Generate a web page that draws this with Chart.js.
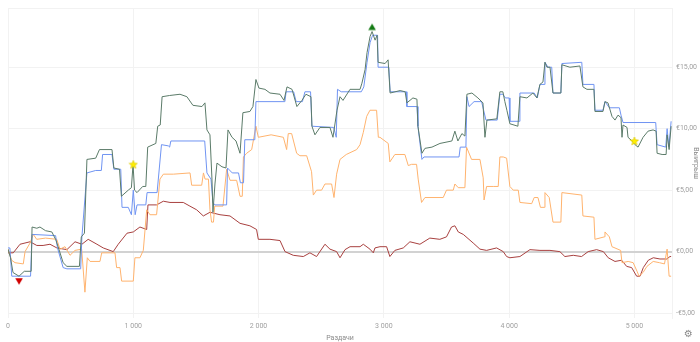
<!DOCTYPE html>
<html><head><meta charset="utf-8">
<script src="https://cdn.jsdelivr.net/npm/chart.js@4/dist/chart.umd.min.js"></script>
<style>
html,body{margin:0;padding:0;background:#fff;}
#wrap{position:relative;width:700px;height:342px;}
#gear{position:absolute;left:684px;top:328px;font:10px "DejaVu Sans";color:#8a8a8a;}
</style></head>
<body><div id="wrap"><canvas id="c" width="700" height="342"></canvas><div id="gear">⚙</div></div>
<script>
// ---- data (hands, winnings in €) ----
const greenHands = [0,20,40,88,130,185,192,230,255,300,350,380,400,440,470,570,585,610,630,700,730,830,845,890,905,960,985,998,1010,1030,1075,1100,1115,1180,1195,1215,1230,1290,1373,1428,1476,1548,1572,1588,1612,1628,1636,1652,1668,1708,1740,1756,1788,1820,1852,1875,1931,1955,1979,2003,2051,2091,2171,2203,2227,2267,2306,2346,2378,2418,2426,2450,2490,2570,2594,2626,2650,2674,2730,2810,2825,2850,2866,2890,2906,2930,2946,2954,3010,3034,3050,3130,3170,3184,3232,3264,3272,3304,3328,3384,3448,3543,3567,3591,3623,3647,3663,3703,3751,3791,3807,3823,3902,3926,3950,3966,3982,4006,4070,4086,4142,4190,4222,4246,4270,4286,4302,4326,4350,4413,4421,4485,4565,4589,4621,4677,4685,4749,4765,4789,4821,4845,4869,4893,4901,4909,4941,4949,4981,5005,5029,5069,5109,5149,5173,5181,5221,5253,5261,5277,5293];
const greenValues = [0.2,-0.5,-1.7,-2.0,-1.6,-1.6,2.0,1.9,2.0,1.7,1.6,1.0,0.4,-0.9,-1.2,-1.2,1.2,1.5,7.5,7.6,8.3,8.3,6.8,6.7,4.5,5.0,5.2,7.1,5.0,4.8,5.3,5.3,8.5,8.8,10.2,10.3,12.6,12.7,12.8,12.6,11.9,11.8,12.1,9.9,9.5,5.9,3.2,5.5,7.2,6.9,6.8,9.9,9.3,9.0,8.0,11.3,11.4,11.8,14.0,13.3,13.2,12.9,12.8,12.3,13.4,13.2,11.8,12.3,12.8,12.6,10.2,9.5,10.1,10.1,9.3,11.5,12.6,12.3,13.2,13.2,13.7,14.8,16.2,17.5,17.9,17.2,17.6,15.4,15.3,15.6,12.9,13.1,13.0,12.1,12.5,12.4,10.2,8.0,8.4,8.5,8.8,9.0,9.8,9.0,9.6,9.4,12.8,12.9,12.5,12.1,9.3,10.7,10.8,13.0,13.0,12.2,11.5,10.4,10.2,12.6,12.5,12.9,12.5,13.6,13.8,15.4,15.0,15.0,12.9,12.9,15.2,15.0,15.1,13.4,13.2,13.2,11.4,11.4,12.2,12.1,11.0,10.7,11.1,10.9,9.3,10.3,10.1,9.3,9.0,8.7,8.5,9.3,9.8,9.9,9.8,8.0,7.9,7.9,9.5,8.3,10.2];

const blueHands = [0,15,30,180,192,380,395,440,470,580,590,630,700,745,755,830,845,900,910,960,985,1000,1015,1030,1100,1110,1190,1225,1280,1290,1300,1570,1588,1620,1636,1650,1745,1752,1790,1840,1855,1880,1890,1970,1979,2210,2220,2280,2300,2350,2370,2415,2426,2600,2620,2630,2660,2820,2840,2866,2890,2910,2950,2954,3040,3050,3180,3184,3265,3272,3304,3320,3600,3610,3655,3663,3680,3720,3780,3815,3905,3926,3950,3970,4000,4006,4080,4086,4200,4225,4246,4280,4286,4310,4340,4350,4413,4421,4580,4589,4677,4685,4749,4765,4800,4880,4893,4909,5170,5181,5250,5261,5275,5293];
const blueValues = [0.3,0.3,-2.0,-2.0,1.4,1.3,0.3,-1.3,-1.4,-1.4,1.2,6.4,6.6,6.6,7.9,7.9,6.7,6.7,3.6,3.6,3.0,5.0,3.0,3.8,3.8,4.8,4.8,8.7,8.6,8.5,9.0,9.0,6.4,5.9,4.0,3.8,3.8,6.8,6.4,6.4,5.6,5.6,9.1,9.1,12.2,12.2,13.0,13.0,12.2,12.2,13.0,13.0,10.2,10.1,9.3,13.2,13.0,13.0,13.4,15.4,17.0,17.6,17.6,15.0,15.0,13.0,13.0,11.8,11.8,10.2,7.5,7.7,7.7,8.5,8.5,12.6,11.8,12.2,12.2,10.7,10.7,12.8,12.8,12.5,12.5,10.6,10.6,12.9,12.9,12.5,13.6,13.6,15.4,15.0,15.0,12.9,12.9,15.3,15.4,13.6,13.6,11.5,11.5,12.2,11.7,11.7,11.1,10.5,10.5,8.7,8.5,10.0,8.5,10.6];

const orangeHands = [0,29,56,122,136,176,202,229,300,389,415,455,495,535,588,614,633,655,734,748,854,867,894,907,1000,1013,1053,1080,1107,1133,1186,1213,1240,1320,1453,1466,1546,1560,1573,1600,1612,1625,1640,1650,1716,1745,1772,1825,1852,1870,1879,1905,1945,1979,1998,2100,2198,2224,2237,2264,2304,2330,2384,2423,2437,2463,2503,2530,2583,2602,2623,2650,2700,2783,2810,2836,2863,2889,2942,2956,2969,3035,3048,3088,3168,3195,3221,3261,3274,3301,3328,3474,3500,3554,3567,3594,3647,3660,3700,3767,3793,3800,3820,3873,3913,3926,3953,3980,4006,4033,4073,4086,4180,4200,4230,4250,4280,4286,4320,4350,4413,4421,4580,4589,4677,4685,4760,4765,4800,4821,4890,4901,4950,4990,5021,5037,5069,5100,5150,5200,5240,5261,5277,5293];
const orangeValues = [0.2,-0.7,-0.9,-1.0,0.0,0.7,1.4,1.0,1.1,1.0,0.2,0.4,-0.3,0.1,0.2,-3.3,-0.5,-0.8,-0.8,-0.1,-0.1,-1.3,-1.3,-2.4,-2.4,-0.5,-0.5,0.1,3.4,3.0,3.0,5.9,6.3,6.3,6.4,5.4,5.4,6.4,5.9,5.9,3.4,2.4,2.4,3.7,3.7,6.7,5.8,5.8,4.5,4.5,7.7,8.0,8.3,10.2,9.3,9.5,9.3,8.3,9.6,9.6,8.0,7.8,7.8,6.5,4.6,5.0,5.0,5.5,5.5,4.4,6.3,7.5,7.9,8.3,8.7,9.7,11.0,11.5,11.5,9.3,9.3,8.8,7.3,7.9,7.9,7.0,7.1,7.1,5.9,4.0,4.4,4.4,5.0,5.0,5.5,5.2,5.2,8.5,7.5,7.5,6.0,4.2,5.3,5.3,5.3,7.7,7.7,7.6,5.3,5.0,5.0,4.0,3.9,4.4,4.4,3.6,3.6,4.8,4.4,2.4,2.4,4.8,4.6,2.9,2.8,1.0,1.2,1.6,1.2,0.4,0.1,-0.9,-0.8,-0.9,-1.6,-2.0,-1.7,-1.2,-0.8,-0.9,-1.0,0.2,-2.0,-2.0];

const redHands = [0,42,96,176,230,280,335,390,470,535,590,640,710,760,840,880,950,1000,1053,1107,1117,1186,1240,1293,1399,1452,1506,1559,1612,1692,1772,1852,1931,1984,1998,2091,2171,2211,2277,2357,2410,2463,2530,2570,2623,2650,2690,2730,2810,2836,2889,2916,2929,2969,3022,3048,3088,3155,3208,3288,3367,3447,3500,3540,3567,3594,3634,3713,3767,3820,3900,3953,3980,4006,4086,4166,4246,4326,4405,4445,4512,4578,4631,4698,4752,4791,4845,4898,4938,4978,5018,5045,5071,5111,5151,5204,5258,5284,5293];
const redValues = [-0.1,-0.1,0.6,0.8,0.5,0.5,0.6,0.3,0.16,0.8,0.6,1.0,0.6,0.3,0.0,0.6,1.5,1.6,2.0,1.8,3.8,3.8,4.1,4.0,4.0,3.7,3.4,2.9,3.2,3.0,2.9,2.3,2.1,1.8,1.0,1.0,0.9,0.0,-0.3,-0.4,-0.1,-0.4,0.6,0.2,0.0,-0.5,0.16,0.4,0.4,0.6,0.2,-0.1,0.3,0.4,0.4,-0.4,0.1,0.3,0.8,0.6,1.1,1.0,1.2,2.0,2.1,1.6,1.4,0.7,0.2,0.1,0.3,0.0,-0.4,-0.5,-0.4,0.16,0.1,0.1,0.0,-0.4,-0.3,-0.4,0.0,0.16,0.0,-0.5,-0.8,-0.7,-1.2,-1.3,-2.0,-2.0,-1.3,-0.7,-0.5,-0.6,-0.6,-0.4,-0.4];

const starHands = [1000, 5000];
const starValues = [7.1, 9.0];

const xTicks = [0,1000,2000,3000,4000,5000];
const yTicks = [-5,0,5,10,15];
const xTitle = 'Раздачи';
const yTitle = 'Выигрыш';

// ---- helpers ----
const pts = (h, v) => h.map((x, i) => ({x, y: v[i]}));

function triCanvas(color, up) {
  const c = document.createElement('canvas');
  c.width = 8; c.height = 18;
  const g = c.getContext('2d');
  g.fillStyle = color;
  g.beginPath();
  if (up) { g.moveTo(4, 1); g.lineTo(7.8, 7.5); g.lineTo(0.2, 7.5); }
  else { g.moveTo(0.2, 11); g.lineTo(7.8, 11); g.lineTo(4, 17.5); }
  g.closePath(); g.fill();
  return c;
}
function starCanvas() {
  const c = document.createElement('canvas');
  c.width = 10; c.height = 10;
  const g = c.getContext('2d');
  g.beginPath();
  for (let i = 0; i < 10; i++) {
    const r = i % 2 ? 1.9 : 4.4;
    const a = -Math.PI / 2 + i * Math.PI / 5;
    const px = 5 + r * Math.cos(a), py = 5.4 + r * Math.sin(a);
    i ? g.lineTo(px, py) : g.moveTo(px, py);
  }
  g.closePath();
  g.fillStyle = '#ffee00'; g.fill();
  g.strokeStyle = '#d9c600'; g.lineWidth = 0.6; g.stroke();
  return c;
}

let minI = 0, maxI = 0;
greenValues.forEach((v, i) => { if (v < greenValues[minI]) minI = i; if (v > greenValues[maxI]) maxI = i; });

const lineDs = (label, h, v, color) => ({
  label, data: pts(h, v), borderColor: color, borderWidth: 1,
  pointRadius: 0, tension: 0, fill: false
});

const fontTick = {family: 'Roboto', size: 7};

new Chart(document.getElementById('c'), {
  type: 'line',
  data: {
    datasets: [
      {label: 'min', type: 'scatter', data: [{x: greenHands[minI], y: greenValues[minI]}], pointStyle: triCanvas('#d10000', false), pointRadius: 5},
      {label: 'max', type: 'scatter', data: [{x: greenHands[maxI], y: greenValues[maxI]}], pointStyle: triCanvas('#137a13', true), pointRadius: 5},
      {label: 'stars', type: 'scatter', data: pts(starHands, starValues), pointStyle: starCanvas(), pointRadius: 5},
      lineDs('total', greenHands, greenValues, '#5b7b69'),
      lineDs('allin', blueHands, blueValues, '#7094f2'),
      lineDs('showdown', orangeHands, orangeValues, '#ffb36e'),
      lineDs('nonshowdown', redHands, redValues, '#a8403f')
    ]
  },
  options: {
    responsive: false, animation: false, devicePixelRatio: 1,
    layout: {padding: {left: 8, top: 8, right: 0, bottom: 0}},
    plugins: {legend: {display: false}, tooltip: {enabled: false}},
    scales: {
      x: {
        type: 'linear', min: 0, max: 5300,
        afterBuildTicks: s => { s.ticks = xTicks.map(value => ({value})); },
        afterFit: s => { s.height = 24; },
        grid: {color: '#f2f2f2', lineWidth: 1, drawTicks: false},
        border: {display: false},
        ticks: {font: fontTick, color: '#a0a0a0', padding: 4, maxRotation: 0,
          callback: v => v === 0 ? '0' : (v / 1000) + ' 000'},
        title: {display: true, text: xTitle, font: fontTick, color: '#8a8a8a', padding: {top: 2, bottom: 0}}
      },
      y: {
        type: 'linear', position: 'right', min: -5.4, max: 19.8,
        afterBuildTicks: s => { s.ticks = yTicks.concat([19.8]).map(value => ({value})); },
        afterFit: s => { s.width = 28; },
        grid: {
          drawTicks: false,
          color: c => c.tick && c.tick.value === 0 ? '#d2d2d2' : '#f2f2f2',
          lineWidth: c => c.tick && c.tick.value === 0 ? 2 : 1
        },
        border: {display: true, color: '#f2f2f2'},
        ticks: {font: fontTick, color: '#a0a0a0', padding: 4,
          callback: v => yTicks.includes(v) ? (v < 0 ? '-€' : '€') + Math.abs(v) + ',00' : ''},
        title: {display: true, text: yTitle, font: fontTick, color: '#8a8a8a', padding: 0}
      }
    }
  }
});
</script>
</body></html>
